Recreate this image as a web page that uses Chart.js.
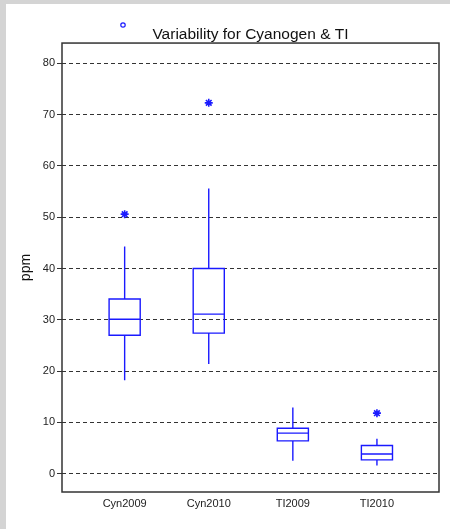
<!DOCTYPE html>
<html>
<head>
<meta charset="utf-8">
<script src="https://cdn.jsdelivr.net/npm/chart.js@4.4.1/dist/chart.umd.min.js"></script>
<style>
  html, body { margin: 0; padding: 0; background: #ffffff; }
  #wrap {
    width: 444px; height: 525px;
    border-left: 6px solid #d4d4d4;
    border-top: 4px solid #d4d4d4;
    background: #ffffff;
  }
  canvas { display: block; }
</style>
</head>
<body>
<div id="wrap"><canvas id="chart" width="444" height="525"></canvas></div>
<script>
// box plot data
const categories = ['Cyn2009', 'Cyn2010', 'TI2009', 'TI2010'];
const whiskerLow = [18.2, 21.4, 2.5, 1.6];
const q1 = [27.0, 27.4, 6.4, 2.7];
const median = [30.1, 31.1, 7.9, 3.85];
const q3 = [34.05, 40.0, 8.85, 5.5];
const whiskerHigh = [44.3, 55.6, 12.9, 6.8];
// outliers (category index starts at 1)
const outlierCat = [1, 2, 4];
const outlierVal = [50.6, 72.3, 11.8];
const yTicks = [0, 10, 20, 30, 40, 50, 60, 70, 80];

const blue = '#1a1aff';
const BOX_W = 0.37; // box width in x units

// draws the boxes + whiskers through the chart scales
const boxPlugin = {
    id: 'boxes',
    afterDatasetsDraw(chart) {
        const ctx = chart.ctx;
        const x = chart.scales.x;
        const y = chart.scales.y;
        ctx.save();
        ctx.strokeStyle = blue;
        ctx.lineWidth = 1.4;
        for (let i = 0; i < categories.length; i++) {
            const c = i + 1;
            const xl = x.getPixelForValue(c - BOX_W / 2);
            const xr = x.getPixelForValue(c + BOX_W / 2);
            const xc = x.getPixelForValue(c);
            const yq1 = y.getPixelForValue(q1[i]);
            const yq3 = y.getPixelForValue(q3[i]);
            const ym = y.getPixelForValue(median[i]);
            ctx.beginPath();
            ctx.rect(xl, yq3, xr - xl, yq1 - yq3);
            ctx.moveTo(xl, ym);
            ctx.lineTo(xr, ym);
            ctx.moveTo(xc, yq3);
            ctx.lineTo(xc, y.getPixelForValue(whiskerHigh[i]));
            ctx.moveTo(xc, yq1);
            ctx.lineTo(xc, y.getPixelForValue(whiskerLow[i]));
            ctx.stroke();
        }
        ctx.restore();
    },
    afterDraw(chart) {
        const ctx = chart.ctx;
        const a = chart.chartArea;
        ctx.save();
        // frame around plot area
        ctx.strokeStyle = '#333333';
        ctx.lineWidth = 1.5;
        ctx.strokeRect(a.left, a.top, a.right - a.left, a.bottom - a.top);
        // little legend marker left of the title
        ctx.strokeStyle = blue;
        ctx.lineWidth = 1.2;
        ctx.fillStyle = '#ffffff';
        ctx.beginPath();
        ctx.arc(117, 21, 2.2, 0, Math.PI * 2);
        ctx.fill();
        ctx.stroke();
        ctx.restore();
    }
};

new Chart(document.getElementById('chart'), {
    type: 'scatter',
    data: {
        datasets: [{
            label: 'outliers',
            data: outlierCat.map((c, i) => ({ x: c, y: outlierVal[i] })),
            pointStyle: 'star',
            radius: 4,
            borderColor: blue,
            backgroundColor: blue,
            borderWidth: 1.6
        }]
    },
    options: {
        responsive: false,
        animation: false,
        layout: {
            padding: { left: 0, right: 11, top: 0, bottom: 12 }
        },
        plugins: {
            legend: { display: false },
            tooltip: { enabled: false },
            title: {
                display: true,
                text: 'Variability for Cyanogen & TI',
                fullSize: false,
                color: '#111111',
                font: { family: 'Liberation Sans, Arial, sans-serif', size: 15.5, weight: 'normal', lineHeight: 1.1 },
                padding: { top: 22, bottom: 0 }
            }
        },
        scales: {
            x: {
                type: 'linear',
                min: 0.255,
                max: 4.738,
                afterBuildTicks: (scale) => {
                    scale.ticks = categories.map((c, i) => ({ value: i + 1 }));
                },
                afterFit: (scale) => { scale.height = 25; },
                ticks: {
                    callback: (v) => categories[v - 1],
                    color: '#222222',
                    font: { family: 'Liberation Sans, Arial, sans-serif', size: 11 },
                    padding: -3,
                    maxRotation: 0,
                    autoSkip: false
                },
                grid: { display: false },
                border: { display: false }
            },
            y: {
                min: -3.57,
                max: 83.96,
                afterBuildTicks: (scale) => {
                    scale.ticks = yTicks.map(v => ({ value: v }));
                },
                afterFit: (scale) => { scale.width = 56; },
                title: {
                    display: true,
                    text: 'ppm',
                    color: '#111111',
                    font: { family: 'Liberation Sans, Arial, sans-serif', size: 14 },
                    padding: { top: 12, bottom: 0 }
                },
                ticks: {
                    color: '#222222',
                    font: { family: 'Liberation Sans, Arial, sans-serif', size: 11 },
                    padding: 2
                },
                grid: {
                    color: '#333333',
                    lineWidth: 1,
                    tickLength: 5,
                    tickBorderDash: [],
                    tickColor: '#333333'
                },
                border: { display: false, dash: [4, 3] }
            }
        }
    },
    plugins: [boxPlugin]
});
</script>
</body>
</html>
